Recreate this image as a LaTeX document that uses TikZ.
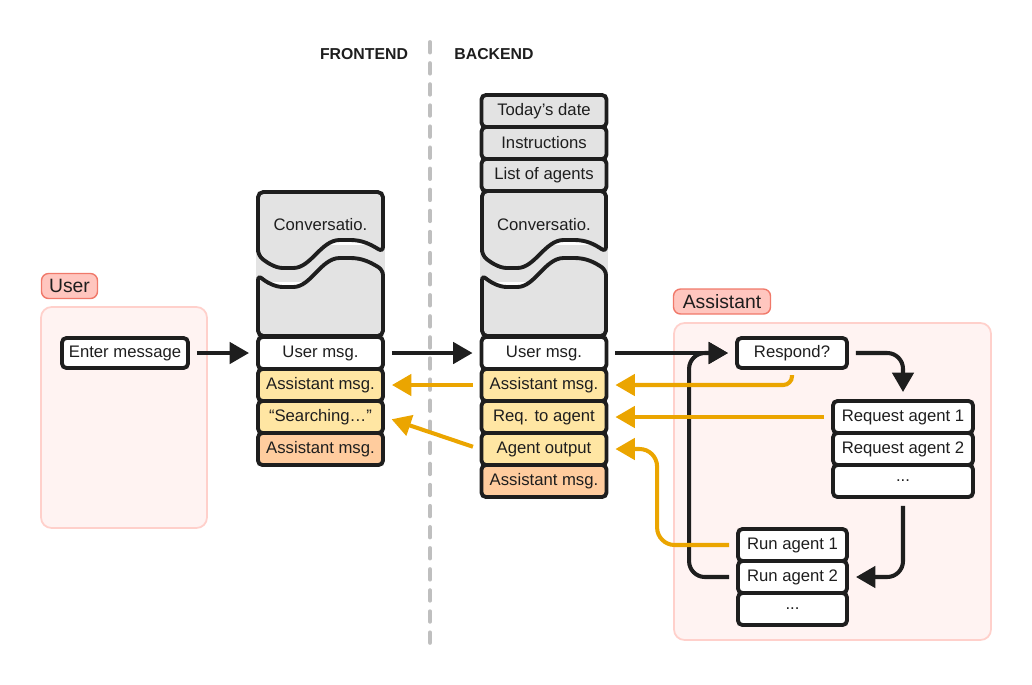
\documentclass[tikz,border=0pt]{standalone}
\usepackage{fontspec}
\setmainfont{Liberation Sans}
\usetikzlibrary{arrows.meta}
\definecolor{ink}{HTML}{1E1E1E}
\definecolor{boxgray}{HTML}{E3E3E3}
\definecolor{msgyellow}{HTML}{FFE6A3}
\definecolor{msgpeach}{HTML}{FFCC9E}
\definecolor{amber}{HTML}{EBA500}
\definecolor{panelfill}{HTML}{FFF3F2}
\definecolor{panelline}{HTML}{FFD0CB}
\definecolor{tagfill}{HTML}{FFC6BF}
\definecolor{tagline}{HTML}{F0796A}
\definecolor{divgray}{HTML}{BFBFBF}
\begin{document}
\begin{tikzpicture}[x=0.02cm, y=0.02cm]
  \tikzstyle{every node}+=[inner sep=0pt, text=ink, font=\fontsize{9.5}{11}\selectfont]
  \tikzstyle{row}=[draw=ink, line width=2.2pt, rounded corners=2.5pt, minimum height=0.64cm]
  \tikzstyle{frow}=[row, minimum width=2.5cm]
  \tikzstyle{reqrow}=[row, fill=white, minimum width=2.8cm]
  \tikzstyle{runrow}=[row, fill=white, minimum width=2.18cm]
  \tikzstyle{head}=[font=\bfseries\fontsize{9}{11}\selectfont]
  \tikzstyle{tag}=[draw=tagline, fill=tagfill, line width=0.8pt, rounded corners=4pt, minimum height=0.5cm, font=\fontsize{11}{13}\selectfont]
  \tikzstyle{panel}=[draw=panelline, fill=panelfill, line width=1pt, rounded corners=6pt]
  \tikzstyle{convo}=[draw=ink, fill=boxgray, line width=2.2pt, rounded corners=3pt]
  \tikzstyle{divider}=[draw=divgray, line width=2.2pt, line cap=round, dash pattern=on 6pt off 6pt]
  \tikzstyle{blk}=[draw=ink, line width=2.3pt, -{Triangle[length=11pt,width=12pt]}, shorten <=4pt, shorten >=4pt, rounded corners=9pt]
  \tikzstyle{org}=[blk, draw=amber]
  \useasboundingbox (0,0) rectangle (1032,-684);

  \draw[divider] (430,-42) -- (430,-643);
  \node[head] (front) at (364,-54) {FRONTEND};
  \node[head] (back) at (494,-54) {BACKEND};

  \draw[panel] (41,-307) rectangle (207,-528);
  \draw[panel] (674,-323) rectangle (991,-640);
  \node[tag, minimum width=1.12cm] (usertag) at (69.5,-286) {User};
  \node[tag, minimum width=1.94cm] (asstag) at (722,-301.5) {Assistant};

  \node[row, fill=white, minimum width=2.52cm, minimum height=0.6cm] (enter) at (125,-353) {Enter message};

  \fill[boxgray] (256,-245) rectangle (385,-282);
  \draw[convo] (258,-255) -- (258,-192) -- (383,-192) -- (383,-252) .. controls (370,-244) and (362,-240) .. (345,-240) .. controls (321,-240) and (311,-268) .. (288,-268) .. controls (275,-268) and (266,-262) .. (258,-255) -- cycle;
  \draw[convo] (258,-275) .. controls (266,-282) and (275,-287) .. (288,-287) .. controls (311,-287) and (321,-258) .. (345,-258) .. controls (362,-258) and (370,-262) .. (383,-270) -- (383,-336) -- (258,-336) -- cycle;
  \node (fconv) at (320.5,-225) {Conversatio.};
  \node[frow, fill=white] (fu1) at (320.5,-353) {User msg.};
  \node[frow, fill=msgyellow] (fu2) at (320.5,-385) {Assistant msg.};
  \node[frow, fill=msgyellow] (fu3) at (320.5,-417) {“Searching…”};
  \node[frow, fill=msgpeach] (fu4) at (320.5,-449) {Assistant msg.};

  \node[frow, fill=boxgray] (bt1) at (544,-111) {Today’s date};
  \node[frow, fill=boxgray] (bt2) at (544,-143) {Instructions};
  \node[frow, fill=boxgray] (bt3) at (544,-175) {List of agents};
  \fill[boxgray] (480,-245) rectangle (608,-282);
  \draw[convo] (482,-255) -- (482,-191) -- (606,-191) -- (606,-252) .. controls (594,-244) and (586,-240) .. (569,-240) .. controls (545,-240) and (535,-268) .. (512,-268) .. controls (499,-268) and (490,-262) .. (482,-255) -- cycle;
  \draw[convo] (482,-275) .. controls (490,-282) and (499,-287) .. (512,-287) .. controls (535,-287) and (545,-258) .. (569,-258) .. controls (586,-258) and (594,-262) .. (606,-270) -- (606,-336) -- (482,-336) -- cycle;
  \node (bconv) at (544,-225) {Conversatio.};
  \node[frow, fill=white] (bu1) at (544,-353) {User msg.};
  \node[frow, fill=msgyellow] (bu2) at (544,-385) {Assistant msg.};
  \node[frow, fill=msgyellow] (bu3) at (544,-417) {Req. to agent};
  \node[frow, fill=msgyellow] (bu4) at (544,-449) {Agent output};
  \node[frow, fill=msgpeach] (bu5) at (544,-481) {Assistant msg.};

  \node[row, fill=white, minimum width=2.2cm, minimum height=0.6cm] (resp) at (792,-353) {Respond?};
  \node[reqrow] (req1) at (903,-417) {Request agent 1};
  \node[reqrow] (req2) at (903,-449) {Request agent 2};
  \node[reqrow] (req3) at (903,-481) {...};
  \node[runrow] (run1) at (792.5,-545) {Run agent 1};
  \node[runrow] (run2) at (792.5,-577) {Run agent 2};
  \node[runrow] (run3) at (792.5,-609) {...};

  \draw[blk] (enter.east) -- (fu1.west);
  \draw[blk] (fu1.east) -- (bu1.west);
  \draw[blk] (bu1.east) -- (resp.west);
  \draw[blk] (resp.east) -| (req1.north);
  \draw[blk] (req3.south) |- (run2.east);
  \draw[blk] (run2.west) -- ++(-47,0) |- (resp.west);

  \draw[org, rounded corners=5pt, shorten <=3pt] (resp.south) |- (bu2.east);
  \draw[org] (req1.west) -- (bu3.east);
  \draw[org, rounded corners=10pt] (run1.west) -- ++(-79,0) |- (bu4.east);
  \draw[org] (bu2.west) -- (fu2.east);
  \draw[org] (bu4.west) -- (fu3.east);
\end{tikzpicture}
\end{document}
